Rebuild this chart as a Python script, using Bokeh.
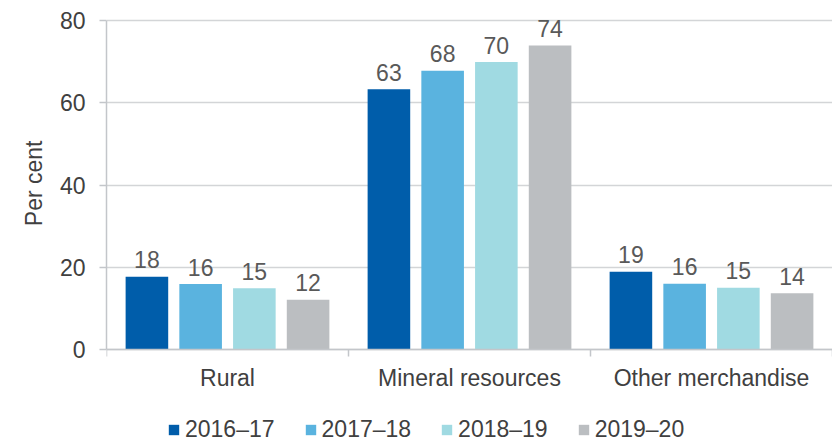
from bokeh.plotting import figure
from bokeh.models import (ColumnDataSource, Range1d, LinearAxis, FixedTicker,
                          Legend, LegendItem, Title)
from bokeh.core.properties import value
from bokeh.transform import dodge
from bokeh.embed import file_html
from bokeh.resources import INLINE

categories = ["Rural", "Mineral resources", "Other merchandise"]
years = ["2016\u201317", "2017\u201318", "2018\u201319", "2019\u201320"]
v_2016_17 = [17.7, 63.3, 18.9]
v_2017_18 = [15.9, 67.8, 16.0]
v_2018_19 = [14.9, 69.9, 15.0]
v_2019_20 = [12.1, 73.9, 13.7]
colors = ["#005DAA", "#5AB3DF", "#A0DAE2", "#BBBEC1"]
y_ticks = [0, 20, 40, 60, 80]

series = [v_2016_17, v_2017_18, v_2018_19, v_2019_20]
FONT = "Liberation Sans"

xc = [i + 0.5 for i in range(len(categories))]
data = {"x": xc}
for yr, vals in zip(years, series):
    data[yr] = vals
    data[yr + "_lbl"] = [f"{v:.0f}" for v in vals]
src = ColumnDataSource(data)

# frame spans y pixels 4..442; value 0 sits at 349 and 80 at 20
p = figure(width=832, height=442, output_backend="svg", toolbar_location=None,
           x_range=Range1d(0, len(categories)), y_range=Range1d(-22.61, 83.89),
           x_axis_type=None, min_border_left=106, min_border_right=0,
           min_border_top=4, min_border_bottom=0)
p.outline_line_color = None
p.xgrid.visible = False
p.ygrid.ticker = FixedTicker(ticks=y_ticks)
p.ygrid.grid_line_color = "#D3D5D7"
p.ygrid.grid_line_width = 1.5

offsets = [-0.333, -0.111, 0.111, 0.333]
bw = 0.176
items = []
for yr, col, off in zip(years, colors, offsets):
    r = p.vbar(x=dodge("x", off, range=p.x_range), top=yr, bottom=0, width=bw,
               source=src, fill_color=col, line_color=None)
    items.append(LegendItem(label=yr, renderers=[r]))
    p.text(x=dodge("x", off, range=p.x_range), y=yr, text=yr + "_lbl", source=src,
           text_align="center", text_baseline="alphabetic", y_offset=-17,
           text_font=value(FONT), text_font_size=value("23px"),
           text_color="#595959")

# y axis
ya = p.yaxis[0]
ya.ticker = FixedTicker(ticks=y_ticks)
ya.bounds = (0, 80)
ya.axis_line_color = "#C3C6CA"
ya.axis_line_width = 1.5
ya.major_tick_line_color = "#C3C6CA"
ya.major_tick_line_width = 1.5
ya.major_tick_out = 7
ya.major_tick_in = 0
ya.minor_tick_line_color = None
ya.major_label_standoff = 14
ya.major_label_text_font = FONT
ya.major_label_text_font_size = "23px"
ya.major_label_text_color = "#404040"

# y axis title, centred on the 0-80 span rather than on the whole frame
ytitle = Title(text="Per cent", align="right", offset=136, vertical_align="bottom",
               standoff=20, text_font=FONT, text_font_size="23px",
               text_font_style="normal", text_color="#404040")
p.add_layout(ytitle, "left")

# x axis at value 0: labels at category centres, ticks at category boundaries
xa = LinearAxis(ticker=FixedTicker(ticks=xc, minor_ticks=list(range(len(categories) + 1))),
                fixed_location=0)
xa.major_label_overrides = {x: c for x, c in zip(xc, categories)}
xa.axis_line_color = "#C3C6CA"
xa.axis_line_width = 1.5
xa.major_tick_line_color = None
xa.major_tick_out = 0
xa.major_tick_in = 0
xa.minor_tick_line_color = "#C3C6CA"
xa.minor_tick_line_width = 1.5
xa.minor_tick_out = 7
xa.minor_tick_in = 0
xa.major_label_standoff = 8
xa.major_label_text_font = FONT
xa.major_label_text_font_size = "23px"
xa.major_label_text_color = "#404040"
p.add_layout(xa, "below")

legend = Legend(items=items, orientation="horizontal", location=(61, -1),
                glyph_width=13, glyph_height=13, label_standoff=5, spacing=29,
                padding=0, margin=0, border_line_color=None,
                background_fill_alpha=0,
                label_text_font=FONT, label_text_font_size="23px",
                label_text_color="#404040")
p.add_layout(legend, "center")

open("out.html", "w").write(file_html(p, INLINE))
